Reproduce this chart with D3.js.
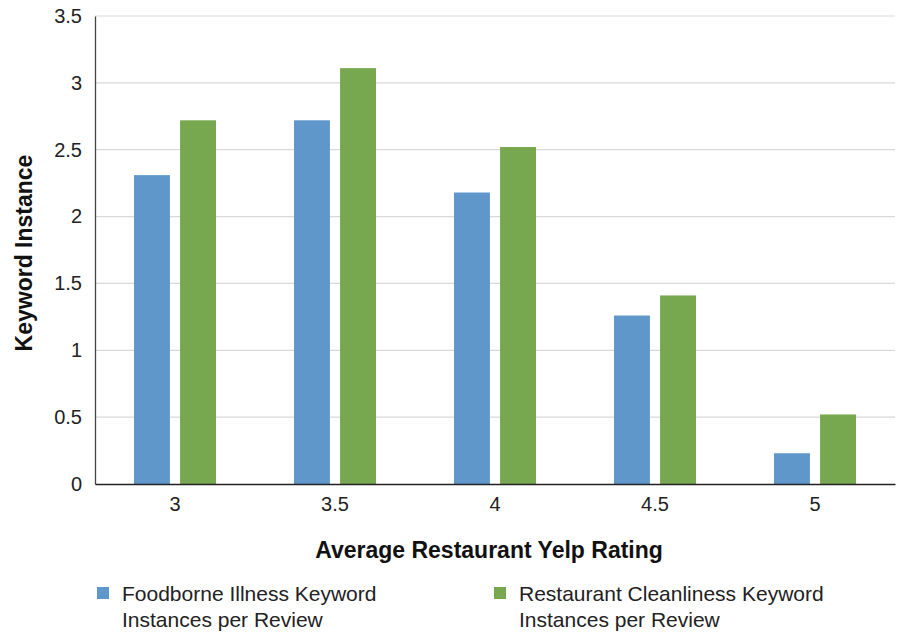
<!DOCTYPE html>
<html>
<head>
<meta charset="utf-8">
<script src="https://cdn.jsdelivr.net/npm/d3@7"></script>
<style>
  body { margin: 0; background: #fff; }
  svg { font-family: "Liberation Sans", Arial, sans-serif; }
</style>
</head>
<body>
<svg id="chart" width="922" height="632"></svg>
<script>
const ratings = ['3', '3.5', '4', '4.5', '5']
const foodborne = [2.31, 2.72, 2.18, 1.26, 0.23]
const cleanliness = [2.72, 3.11, 2.52, 1.41, 0.52]
const yTicks = [0, 0.5, 1, 1.5, 2, 2.5, 3, 3.5]
const seriesNames = [
  ['Foodborne Illness Keyword', 'Instances per Review'],
  ['Restaurant Cleanliness Keyword', 'Instances per Review'],
]
const colors = ['#6097cb', '#77a84f']

const svg = d3.select('#chart')
const margins = {top: 16, right: 27, bottom: 148, left: 95}
const width = 922 - margins.left - margins.right
const height = 632 - margins.top - margins.bottom
const font = '"Liberation Sans", Arial, sans-serif'

const x = d3.scaleBand().domain(ratings).range([0, width])
const sub = d3.scaleBand().domain([0, 1]).range([39, 121]).paddingInner(0.22)
const y = d3.scaleLinear().domain([0, 3.5]).range([height, 0])

const g = svg.append('g')
  .attr('transform', `translate(${margins.left}, ${margins.top})`)

// grid
g.selectAll('.grid')
  .data(yTicks.filter((d) => d > 0))
  .enter()
  .append('line')
  .attr('x1', 0)
  .attr('x2', width)
  .attr('y1', (d) => y(d))
  .attr('y2', (d) => y(d))
  .attr('stroke', '#d9d9d9')
  .attr('stroke-width', 1.2)

// bars
const data = ratings.map((r, i) => ({rating: r, values: [foodborne[i], cleanliness[i]]}))
const groups = g.selectAll('.grp')
  .data(data)
  .enter()
  .append('g')
  .attr('transform', (d) => `translate(${x(d.rating)}, 0)`)

groups.selectAll('rect')
  .data((d) => d.values)
  .enter()
  .append('rect')
  .attr('x', (d, i) => sub(i))
  .attr('y', (d) => y(d))
  .attr('width', sub.bandwidth())
  .attr('height', (d) => height - y(d))
  .attr('fill', (d, i) => colors[i])

// axes
const yAxis = g.append('g')
  .call(d3.axisLeft(y).tickValues(yTicks).tickSize(0).tickPadding(13).tickFormat((d) => d))
yAxis.select('.domain').attr('stroke', '#444').attr('stroke-width', 1.3)
yAxis.selectAll('text').attr('font-size', 20).attr('fill', '#222').attr('font-family', font)

const xAxis = g.append('g')
  .attr('transform', `translate(0, ${height})`)
  .call(d3.axisBottom(x).tickSize(0).tickPadding(13))
xAxis.select('.domain').attr('stroke', '#222').attr('stroke-width', 1.5)
xAxis.selectAll('text').attr('font-size', 20).attr('fill', '#222').attr('font-family', font)

// axis titles
svg.append('text')
  .attr('x', 489)
  .attr('y', 558)
  .attr('text-anchor', 'middle')
  .attr('font-size', 23)
  .attr('font-weight', 'bold')
  .attr('fill', '#111')
  .text('Average Restaurant Yelp Rating')

svg.append('text')
  .attr('transform', 'translate(32, 253) rotate(-90)')
  .attr('text-anchor', 'middle')
  .attr('font-size', 23)
  .attr('font-weight', 'bold')
  .attr('fill', '#111')
  .text('Keyword Instance')

// legend
const legendX = [97, 494]
seriesNames.forEach((lines, i) => {
  const lg = svg.append('g').attr('transform', `translate(${legendX[i]}, 587)`)
  lg.append('rect').attr('width', 12).attr('height', 12).attr('fill', colors[i])
  lg.append('text')
    .attr('y', 14)
    .attr('font-size', 21)
    .attr('fill', '#222')
    .selectAll('tspan')
    .data(lines)
    .enter()
    .append('tspan')
    .attr('x', 25)
    .attr('dy', (d, j) => (j === 0 ? 0 : 26))
    .text((d) => d)
})
</script>
</body>
</html>
